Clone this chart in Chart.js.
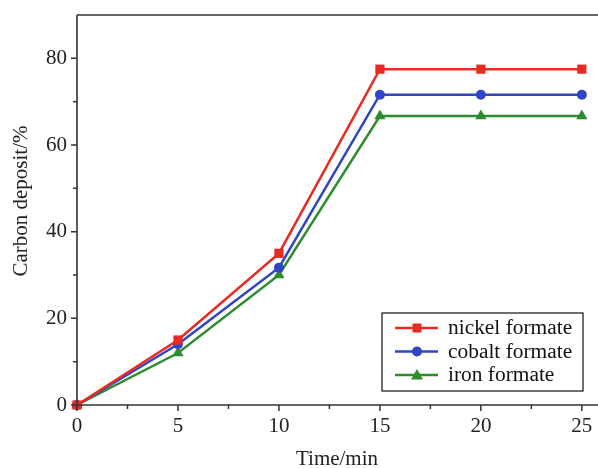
<!DOCTYPE html>
<html><head><meta charset="utf-8">
<script src="https://cdn.jsdelivr.net/npm/chart.js@4/dist/chart.umd.min.js"></script>
<style>html,body{margin:0;padding:0;background:#fff;overflow:hidden}#w{width:598px;height:468px;position:relative}</style>
</head><body><div id="w"><canvas id="c" width="598" height="468"></canvas></div>
<script>
const times = [0, 5, 10, 15, 20, 25];
const nickel = [0, 15, 35, 77.5, 77.5, 77.5];
const cobalt = [0, 14, 31.7, 71.6, 71.6, 71.6];
const iron = [0, 12, 30, 66.7, 66.7, 66.7];
const seriesNames = ['nickel formate', 'cobalt formate', 'iron formate'];
const xTicks = [0, 5, 10, 15, 20, 25];
const yTicks = [0, 20, 40, 60, 80];

const FONT = '"Liberation Serif", "Times New Roman", serif';
const AX = '#333';

function pts(v){ return times.map((t,i)=>({x:t,y:v[i]})); }

const axisPlugin = {
  id:'axisDeco',
  afterDraw(chart){
    const {ctx, chartArea:a, scales:{x,y}} = chart;
    ctx.save();
    ctx.strokeStyle = AX; ctx.lineWidth = 1.6;
    ctx.beginPath();
    ctx.moveTo(a.left, a.top); ctx.lineTo(a.right, a.top);
    ctx.moveTo(a.left, a.top); ctx.lineTo(a.left, a.bottom);
    ctx.moveTo(a.left, a.bottom); ctx.lineTo(a.right, a.bottom);
    ctx.stroke();
    ctx.lineWidth = 1.5;
    ctx.beginPath();
    for (let v=0; v<=25; v+=2.5){
      const px = x.getPixelForValue(v);
      const len = (v%5===0)?6:4;
      ctx.moveTo(px, a.bottom); ctx.lineTo(px, a.bottom+len);
    }
    for (let v=0; v<=80; v+=10){
      const py = y.getPixelForValue(v);
      const len = (v%20===0)?6:4;
      ctx.moveTo(a.left, py); ctx.lineTo(a.left-len, py);
    }
    ctx.stroke();
    // x tick labels
    ctx.fillStyle='#222'; ctx.font='21px '+FONT; ctx.textAlign='center'; ctx.textBaseline='middle';
    xTicks.forEach(v=>{ ctx.fillText(String(v), x.getPixelForValue(v), a.bottom+21); });
    // x title
    ctx.fillText('Time/min', 337, 459);
    // legend
    const lx=382, ly=313, lw=201, lh=78;
    ctx.fillStyle='#fff'; ctx.fillRect(lx,ly,lw,lh);
    ctx.strokeStyle='#222'; ctx.lineWidth=1.3; ctx.strokeRect(lx,ly,lw,lh);
    ctx.font = '20px '+FONT; ctx.textBaseline='middle'; ctx.textAlign='left';
    chart.data.datasets.forEach((ds,i)=>{
      const cy = ly+15+i*23.5;
      ctx.strokeStyle=ds.borderColor; ctx.lineWidth=2.5;
      ctx.beginPath(); ctx.moveTo(lx+13,cy); ctx.lineTo(lx+56,cy); ctx.stroke();
      ctx.fillStyle=ds.borderColor;
      const cx=lx+35;
      if(ds.pointStyle==='rect'){ ctx.fillRect(cx-4.5,cy-4.5,9,9); }
      else if(ds.pointStyle==='circle'){ ctx.beginPath(); ctx.arc(cx,cy,5,0,Math.PI*2); ctx.fill(); }
      else { ctx.beginPath(); ctx.moveTo(cx,cy-6); ctx.lineTo(cx+6,cy+4.5); ctx.lineTo(cx-6,cy+4.5); ctx.closePath(); ctx.fill(); }
      ctx.fillStyle='#111';
      ctx.save();
      ctx.translate(lx+66, cy+1); ctx.scale(1.07,1);
      ctx.fillText(ds.label, 0, 0);
      ctx.restore();
    });
    // y title
    ctx.save();
    ctx.fillStyle='#222'; ctx.font='21px '+FONT; ctx.textAlign='center'; ctx.textBaseline='middle';
    ctx.translate(21, 201); ctx.rotate(-Math.PI/2);
    ctx.fillText('Carbon deposit/%', 0, 0);
    ctx.restore();
    ctx.restore();
  }
};

const colors = ['#ea2a22', '#2f45c4', '#2e8b2e'];
const styles = ['rect','circle','triangle'];
const radii = [6.5, 5, 6.5];
const vals = [nickel, cobalt, iron];

new Chart(document.getElementById('c'), {
  type:'line',
  data:{ datasets: vals.map((v,i)=>({
    label: seriesNames[i], data: pts(v), borderColor: colors[i], backgroundColor: colors[i],
    borderWidth: 2.5, pointStyle: styles[i], pointRadius: radii[i], pointBorderWidth:0,
    tension:0, clip:false
  }))},
  options:{
    responsive:false, maintainAspectRatio:false, animation:false,
    layout:{autoPadding:false, padding:{top:15,right:0,left:0,bottom:0}},
    plugins:{legend:{display:false}, tooltip:{enabled:false}},
    scales:{
      x:{ type:'linear', min:0, max:25.8,
        afterBuildTicks(s){ s.ticks = xTicks.map(v=>({value:v})); },
        afterFit(s){ s.height = 63; },
        grid:{display:false, drawTicks:false}, border:{display:false},
        ticks:{ display:false },
        title:{display:false}
      },
      y:{ min:0, max:90,
        afterBuildTicks(s){ s.ticks = yTicks.map(v=>({value:v})); },
        afterFit(s){ s.width = 77; s.paddingTop=0; s.paddingBottom=0; },
        grid:{display:false, drawTicks:false}, border:{display:false},
        ticks:{ padding:10, color:'#222', font:{family:FONT, size:21} },
        title:{display:false}
      }
    }
  },
  plugins:[axisPlugin]
});
</script></body></html>
